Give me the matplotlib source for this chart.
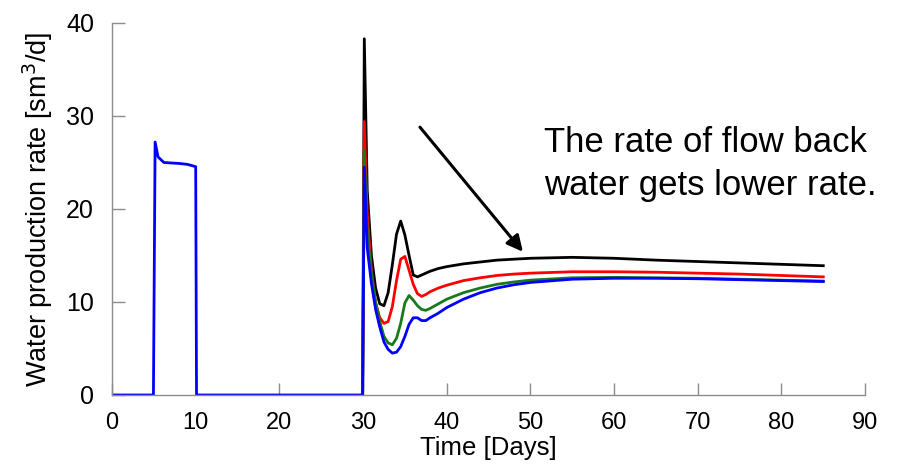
import matplotlib
matplotlib.use("Agg")
import matplotlib.pyplot as plt

plt.rcParams["font.family"] = ["Liberation Sans", "DejaVu Sans"]

# early production pulse (only the blue case is visible there)
t_early = [0, 4.95, 5.15, 5.5, 6.2, 7.0, 8.0, 9.0, 10.0, 10.1, 29.95]
blue_early = [0, 0, 27.2, 25.6, 25.0, 24.95, 24.9, 24.8, 24.55, 0, 0]

# flow back period, shared time grid
t_late = [29.95, 30.15, 30.5, 31.0, 31.5, 32.0, 32.5, 33.0, 33.5, 34.0, 34.5,
          35.0, 35.5, 36.0, 36.5, 37.0, 37.5, 38.0, 39.0, 40.0, 42.0, 44.0,
          46.0, 48.0, 50.0, 55.0, 60.0, 65.0, 70.0, 75.0, 80.0, 85.0]
black = [0, 38.3, 22.0, 15.0, 11.5, 9.8, 9.6, 11.0, 14.0, 17.3, 18.7,
         17.2, 15.0, 12.9, 12.7, 12.9, 13.1, 13.3, 13.6, 13.8, 14.1, 14.3,
         14.5, 14.6, 14.7, 14.8, 14.7, 14.5, 14.35, 14.2, 14.05, 13.9]
red = [0, 29.4, 19.5, 13.4, 9.9, 8.3, 7.7, 7.9, 9.5, 12.3, 14.6,
       14.9, 13.4, 11.9, 10.9, 10.6, 10.8, 11.1, 11.5, 11.8, 12.3, 12.6,
       12.85, 13.0, 13.1, 13.25, 13.25, 13.2, 13.1, 13.0, 12.85, 12.7]
green = [0, 26.3, 17.5, 13.1, 10.0, 7.9, 6.3, 5.6, 5.4, 6.1, 7.7,
         9.9, 10.7, 10.2, 9.6, 9.2, 9.1, 9.3, 9.8, 10.3, 11.0, 11.5,
         11.9, 12.15, 12.35, 12.6, 12.65, 12.6, 12.55, 12.45, 12.35, 12.25]
blue = [0, 24.5, 15.8, 12.0, 9.2, 7.3, 5.7, 4.9, 4.5, 4.6, 5.2,
        6.3, 7.6, 8.3, 8.3, 8.0, 8.0, 8.3, 8.8, 9.4, 10.3, 11.0,
        11.5, 11.85, 12.1, 12.45, 12.55, 12.55, 12.5, 12.4, 12.3, 12.2]

fig = plt.figure(figsize=(8.99, 4.70), dpi=100)
ax = fig.add_axes([0.1246, 0.1596, 0.8377, 0.7915])

lw = 2.0
ax.plot(t_late, black, color="black", lw=lw)
ax.plot(t_late, red, color="#ff0000", lw=lw)
ax.plot(t_late, green, color="#1a7a1a", lw=lw)
ax.plot(t_early + t_late, blue_early + blue, color="#0000ff", lw=lw)

ax.set_xlim(0, 90)
ax.set_ylim(0, 40)
ax.set_xticks(range(0, 91, 10))
ax.set_yticks(range(0, 41, 10))
for side in ("top", "right"):
    ax.spines[side].set_visible(False)
for side in ("left", "bottom"):
    ax.spines[side].set_color("#8c8c8c")
    ax.spines[side].set_linewidth(1.0)
ax.tick_params(direction="in", length=9, width=1, color="#8c8c8c")
ax.tick_params(axis="x", labelsize=17, pad=12)
ax.tick_params(axis="y", labelsize=18, pad=13)

ax.set_xlabel("Time [Days]", fontsize=18.5, labelpad=2)
ax.set_ylabel("Water production rate [sm$^3$/d]", fontsize=19.5, labelpad=8)

ax.annotate("", xy=(49.1, 15.4), xytext=(36.8, 28.8),
            arrowprops=dict(arrowstyle="-|>", color="black", lw=2.2,
                            mutation_scale=24, shrinkA=0, shrinkB=0))
ax.text(51.6, 28.9, "The rate of flow back\nwater gets lower rate.",
        fontsize=25, ha="left", va="top", linespacing=1.38)

fig.savefig("out.png", dpi=100)
plt.close(fig)
